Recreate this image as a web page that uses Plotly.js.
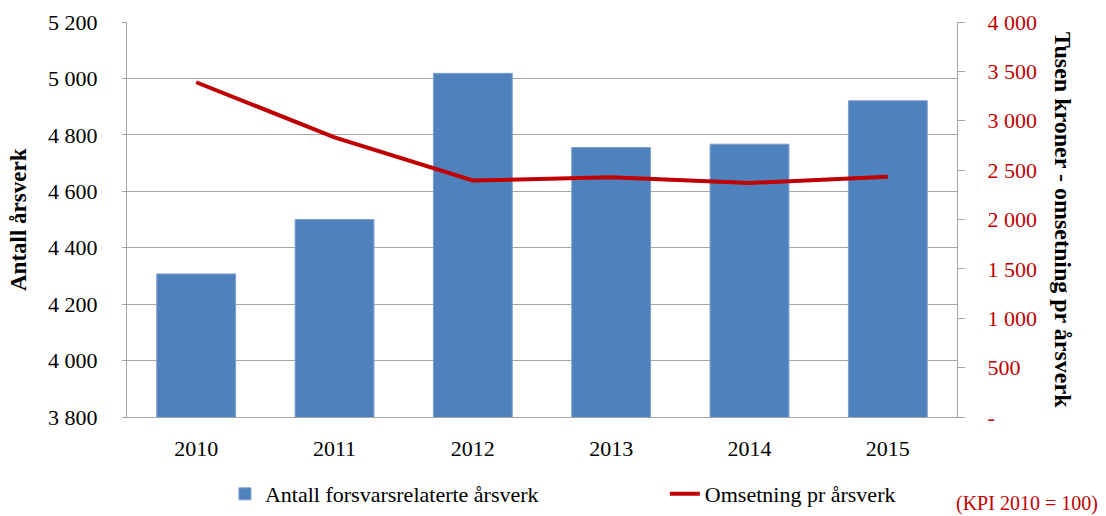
<!DOCTYPE html>
<html>
<head>
<meta charset="utf-8">
<script src="https://cdn.plot.ly/plotly-3.0.1.min.js"></script>
<style>html,body{margin:0;padding:0;background:#fff;}#chart{width:1106px;height:516px;}</style>
</head>
<body>
<div id="chart"></div>
<script>
const years = ["2010", "2011", "2012", "2013", "2014", "2015"];
const arsverk = [4307, 4500, 5018, 4755, 4767, 4921];
const omsetning = [3390, 2832, 2395, 2427, 2370, 2434];
const leftTickVals = [3800, 4000, 4200, 4400, 4600, 4800, 5000, 5200];
const leftTickText = ["3 800", "4 000", "4 200", "4 400", "4 600", "4 800", "5 000", "5 200"];
const rightTickVals = [0, 500, 1000, 1500, 2000, 2500, 3000, 3500, 4000];
const rightTickText = ["-", "500", "1 000", "1 500", "2 000", "2 500", "3 000", "3 500", "4 000"];
const barName = "Antall forsvarsrelaterte årsverk";
const lineName = "Omsetning pr årsverk";
const leftTitle = "Antall årsverk";
const rightTitle = "Tusen kroner - omsetning pr årsverk";
const noteText = "(KPI 2010 = 100)";

const FONT = "Liberation Serif, Times New Roman, serif";
const GRAY = "#A6A6A6";
const RED = "#C00000";

const traces = [
  {
    type: "bar", x: years, y: arsverk, name: barName, yaxis: "y", legend: "legend",
    marker: {color: "#4F81BD", line: {color: "#7EA0CF", width: 1}},
    hoverinfo: "skip"
  },
  {
    type: "scatter", mode: "lines", x: years, y: omsetning, name: lineName, yaxis: "y2", legend: "legend2",
    line: {color: RED, width: 4}, hoverinfo: "skip"
  }
];

const legendBase = {
  orientation: "h", xanchor: "left", y: -0.195, yanchor: "middle",
  font: {family: FONT, size: 22, color: "#000"}, bgcolor: "rgba(0,0,0,0)"
};

const layout = {
  width: 1106, height: 516,
  margin: {l: 127, r: 149, t: 22, b: 99, autoexpand: false},
  paper_bgcolor: "#fff", plot_bgcolor: "#fff",
  font: {family: FONT, size: 22, color: "#000"},
  bargap: 0.43,
  showlegend: true,
  legend: Object.assign({}, legendBase, {x: 0.118}),
  legend2: Object.assign({}, legendBase, {x: 0.648}),
  xaxis: {
    type: "category", showline: true, linecolor: GRAY, linewidth: 1,
    ticks: "", showgrid: false, zeroline: false,
    tickfont: {family: FONT, size: 22, color: "#000"}, ticklabelstandoff: 12
  },
  yaxis: {
    range: [3800, 5200], tickvals: leftTickVals, ticktext: leftTickText,
    showline: true, linecolor: GRAY, linewidth: 1,
    showgrid: true, gridcolor: GRAY, gridwidth: 1, zeroline: false,
    ticks: "outside", ticklen: 4, tickcolor: GRAY,
    tickfont: {family: FONT, size: 22, color: "#000"}, ticklabelstandoff: 20
  },
  yaxis2: {
    range: [0, 4000], tickvals: rightTickVals, ticktext: rightTickText,
    overlaying: "y", side: "right",
    showline: true, linecolor: GRAY, linewidth: 1,
    showgrid: false, zeroline: false,
    ticks: "outside", ticklen: 7, tickcolor: GRAY,
    tickfont: {family: FONT, size: 22, color: RED}, ticklabelstandoff: 18
  },
  annotations: [
    {text: "<b>" + leftTitle + "</b>", xref: "paper", yref: "paper", x: -0.130, y: 0.499,
     xanchor: "center", yanchor: "middle", textangle: -90, showarrow: false,
     font: {family: FONT, size: 23, color: "#000"}},
    {text: "<b>" + rightTitle + "</b>", xref: "paper", yref: "paper", x: 1.128, y: 0.499,
     xanchor: "center", yanchor: "middle", textangle: 90, showarrow: false,
     font: {family: FONT, size: 24, color: "#000"}},
    {text: noteText, xref: "paper", yref: "paper", x: 1.172, y: -0.218,
     xanchor: "right", yanchor: "middle", showarrow: false,
     font: {family: FONT, size: 20, color: RED}}
  ]
};

Plotly.newPlot("chart", traces, layout, {staticPlot: true, displayModeBar: false});
</script>
</body>
</html>
